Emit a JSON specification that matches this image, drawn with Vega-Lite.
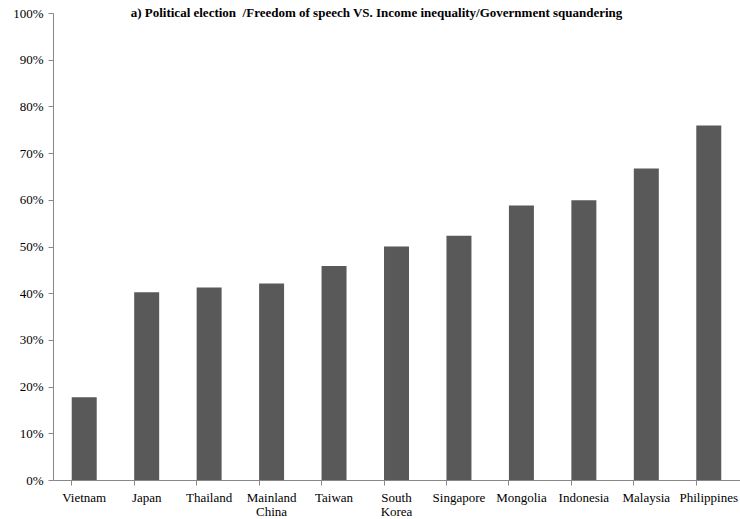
{
  "$schema": "https://vega.github.io/schema/vega-lite/v6.json",
  "width": 687,
  "height": 467,
  "autosize": {"type": "none"},
  "padding": {"left": 53, "top": 13, "right": 0, "bottom": 39},
  "background": "white",
  "title": {
    "text": "a) Political election\u00a0 /Freedom of speech VS. Income inequality/Government squandering",
    "font": "Liberation Serif",
    "fontSize": 13,
    "fontWeight": "bold",
    "color": "black",
    "anchor": "start",
    "dx": 118,
    "offset": -13
  },
  "data": {
    "values": [
      {"country": "Vietnam", "share": 0.177},
      {"country": "Japan", "share": 0.402},
      {"country": "Thailand", "share": 0.412},
      {"country": "Mainland China", "share": 0.421},
      {"country": "Taiwan", "share": 0.458},
      {"country": "South Korea", "share": 0.500},
      {"country": "Singapore", "share": 0.523},
      {"country": "Mongolia", "share": 0.588},
      {"country": "Indonesia", "share": 0.599},
      {"country": "Malaysia", "share": 0.667},
      {"country": "Philippines", "share": 0.759}
    ]
  },
  "mark": {"type": "bar", "color": "#595959"},
  "encoding": {
    "x": {
      "field": "country",
      "type": "nominal",
      "sort": null,
      "scale": {"paddingInner": 0.6, "paddingOuter": 0.3},
      "axis": {
        "title": null,
        "labelAngle": 0,
        "labelFont": "Liberation Serif",
        "labelFontSize": 13,
        "labelColor": "black",
        "labelPadding": 6,
        "labelLineHeight": 14,
        "labelExpr": "split(datum.label, ' ')",
        "bandPosition": 0,
        "tickSize": 5,
        "tickColor": "#888888",
        "domainColor": "#888888",
        "grid": false
      }
    },
    "y": {
      "field": "share",
      "type": "quantitative",
      "scale": {"domain": [0, 1], "nice": false},
      "axis": {
        "title": null,
        "format": ".0%",
        "values": [0, 0.1, 0.2, 0.3, 0.4, 0.5, 0.6, 0.7, 0.8, 0.9, 1],
        "labelFont": "Liberation Serif",
        "labelFontSize": 13,
        "labelColor": "black",
        "labelPadding": 5,
        "tickSize": 5,
        "tickColor": "#888888",
        "domainColor": "#888888",
        "grid": false
      }
    }
  },
  "config": {"view": {"stroke": null}}
}
